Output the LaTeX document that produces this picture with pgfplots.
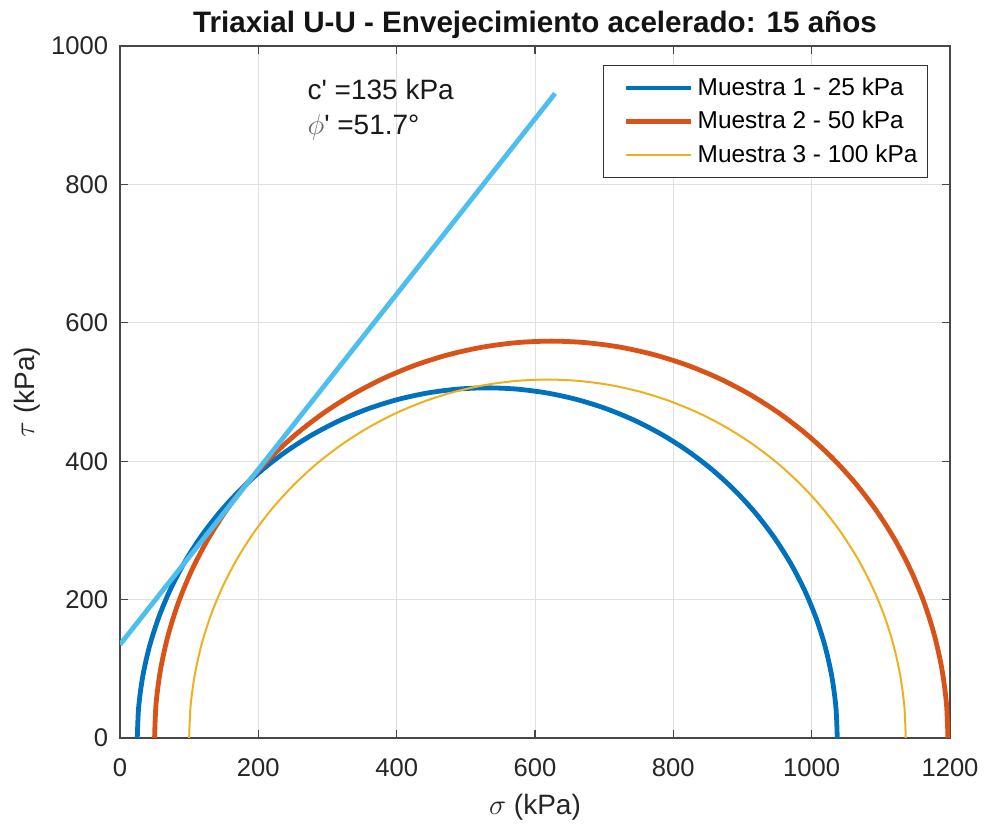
\documentclass[border=0pt]{standalone}
\usepackage{fontspec}
\setmainfont{Liberation Sans}
\usepackage{pgfplots}
\pgfplotsset{compat=1.18}

\definecolor{mblue}{rgb}{0,0.447,0.741}
\definecolor{morange}{rgb}{0.85,0.325,0.098}
\definecolor{myellow}{rgb}{0.929,0.694,0.125}
\definecolor{mcyan}{rgb}{0.301,0.745,0.933}

\begin{document}
\begin{tikzpicture}
\begin{axis}[
    scale only axis,
    width=415pt, height=346pt,
    xmin=0, xmax=1200, ymin=0, ymax=1000,
    xtick={0,200,...,1200}, ytick={0,200,...,1000},
    grid=major,
    grid style={black!12, line width=0.5pt},
    axis line style={black!72, line width=0.6pt},
    tick style={black!72, line width=0.6pt},
    tick align=inside, major tick length=4pt,
    ticklabel style={font=\fontsize{12.8}{15}\selectfont, text=black!85},
    xticklabel style={yshift=-7pt},
    yticklabel style={xshift=-2.4pt},
    /pgf/number format/assume math mode=true,
    /pgf/number format/1000 sep={},
    scaled ticks=false,
    every axis title shift=0pt,
    title={Triaxial U-U - Envejecimiento acelerado: 15 años},
    title style={font=\fontsize{14.8}{17}\selectfont\bfseries, text=black!92,
        at={(axis description cs:0.5,1.0202)}, anchor=base},
    xlabel={$\sigma$ (kPa)}, ylabel={$\tau$ (kPa)},
    label style={font=\fontsize{14}{16}\selectfont, text=black!85},
    xlabel style={at={(axis description cs:0.5,-0.111)}, anchor=base},
    ylabel style={at={(axis description cs:-0.1036,0.5)}, anchor=base},
    legend cell align=left,
    legend style={at={(1,1)}, anchor=north east, xshift=-11pt, yshift=-9.5pt,
        draw=black!80, line width=0.6pt, fill=white,
        font=\fontsize{12.2}{14}\selectfont, row sep=2.5pt,
        inner xsep=3pt, inner ysep=4pt},
    legend image code/.code={\path (0pt,0pt); \draw[#1] (7pt,0pt) -- (39.5pt,0pt);},
]
% Muestra 1: sigma3 = 25, sigma1 = 1037
\addplot[mblue, line width=2.4pt, smooth] coordinates {
(25,0) (26.93,44.10) (32.69,87.87) (42.24,130.96) (55.52,173.06) (72.41,213.85)
(92.79,253) (116.51,290.23) (143.38,325.25) (173.20,357.80) (205.75,387.62)
(240.77,414.49) (278,438.21) (317.15,458.59) (357.94,475.48) (400.04,488.76)
(443.13,498.31) (486.90,504.07) (531,506)
(575.10,504.07) (618.87,498.31) (661.96,488.76) (704.06,475.48) (744.85,458.59)
(784,438.21) (821.23,414.49) (856.25,387.62) (888.80,357.80) (918.62,325.25)
(945.49,290.23) (969.21,253) (989.59,213.85) (1006.48,173.06) (1019.76,130.96)
(1029.31,87.87) (1035.07,44.10) (1037,0)
};
\addlegendentry{Muestra 1 - 25 kPa}
% Muestra 2: sigma3 = 50, sigma1 = 1197
\addplot[morange, line width=2.4pt, smooth] coordinates {
(50,0) (52.18,49.99) (58.71,99.59) (69.54,148.43) (84.59,196.15) (103.73,242.37)
(126.83,286.75) (153.72,328.95) (184.18,368.64) (217.97,405.53) (254.86,439.32)
(294.55,469.78) (336.75,496.67) (381.13,519.77) (427.35,538.91) (475.07,553.96)
(523.91,564.79) (573.51,571.32) (623.5,573.5)
(673.49,571.32) (723.09,564.79) (771.93,553.96) (819.65,538.91) (865.87,519.77)
(910.25,496.67) (952.45,469.78) (992.14,439.32) (1029.03,405.53) (1062.82,368.64)
(1093.28,328.95) (1120.17,286.75) (1143.27,242.37) (1162.41,196.15) (1177.46,148.43)
(1188.29,99.59) (1194.82,49.99) (1197,0)
};
\addlegendentry{Muestra 2 - 50 kPa}
% Muestra 3: sigma3 = 100, sigma1 = 1136
\addplot[myellow, line width=1pt, smooth] coordinates {
(100,0) (101.97,45.15) (107.87,89.95) (117.65,134.07) (131.24,177.17) (148.53,218.92)
(169.40,259) (193.68,297.11) (221.19,332.97) (251.72,366.28) (285.03,396.81)
(320.89,424.32) (359,448.60) (399.08,469.47) (440.83,486.76) (483.93,500.35)
(528.05,510.13) (572.85,516.03) (618,518)
(663.15,516.03) (707.95,510.13) (752.07,500.35) (795.17,486.76) (836.92,469.47)
(877,448.60) (915.11,424.32) (950.97,396.81) (984.28,366.28) (1014.81,332.97)
(1042.32,297.11) (1066.60,259) (1087.47,218.92) (1104.76,177.17) (1118.35,134.07)
(1128.13,89.95) (1134.03,45.15) (1136,0)
};
\addlegendentry{Muestra 3 - 100 kPa}
% envolvente de falla
\addplot[mcyan, line width=2.4pt, forget plot] coordinates {(0,135) (629,931.4)};
\node[anchor=west, align=left, font=\fontsize{14}{17.5}\selectfont, text=black!90]
    at (axis cs:261,908) {c\textquotesingle{} =135 kPa\\{\color{black!60}$\phi$}\textquotesingle{} =51.7°};
\end{axis}
\pgfresetboundingbox
\path[use as bounding box]
    ([xshift=-60pt,yshift=-43.5pt]current axis.south west)
    rectangle ([xshift=17pt,yshift=23pt]current axis.north east);
\end{tikzpicture}
\end{document}
